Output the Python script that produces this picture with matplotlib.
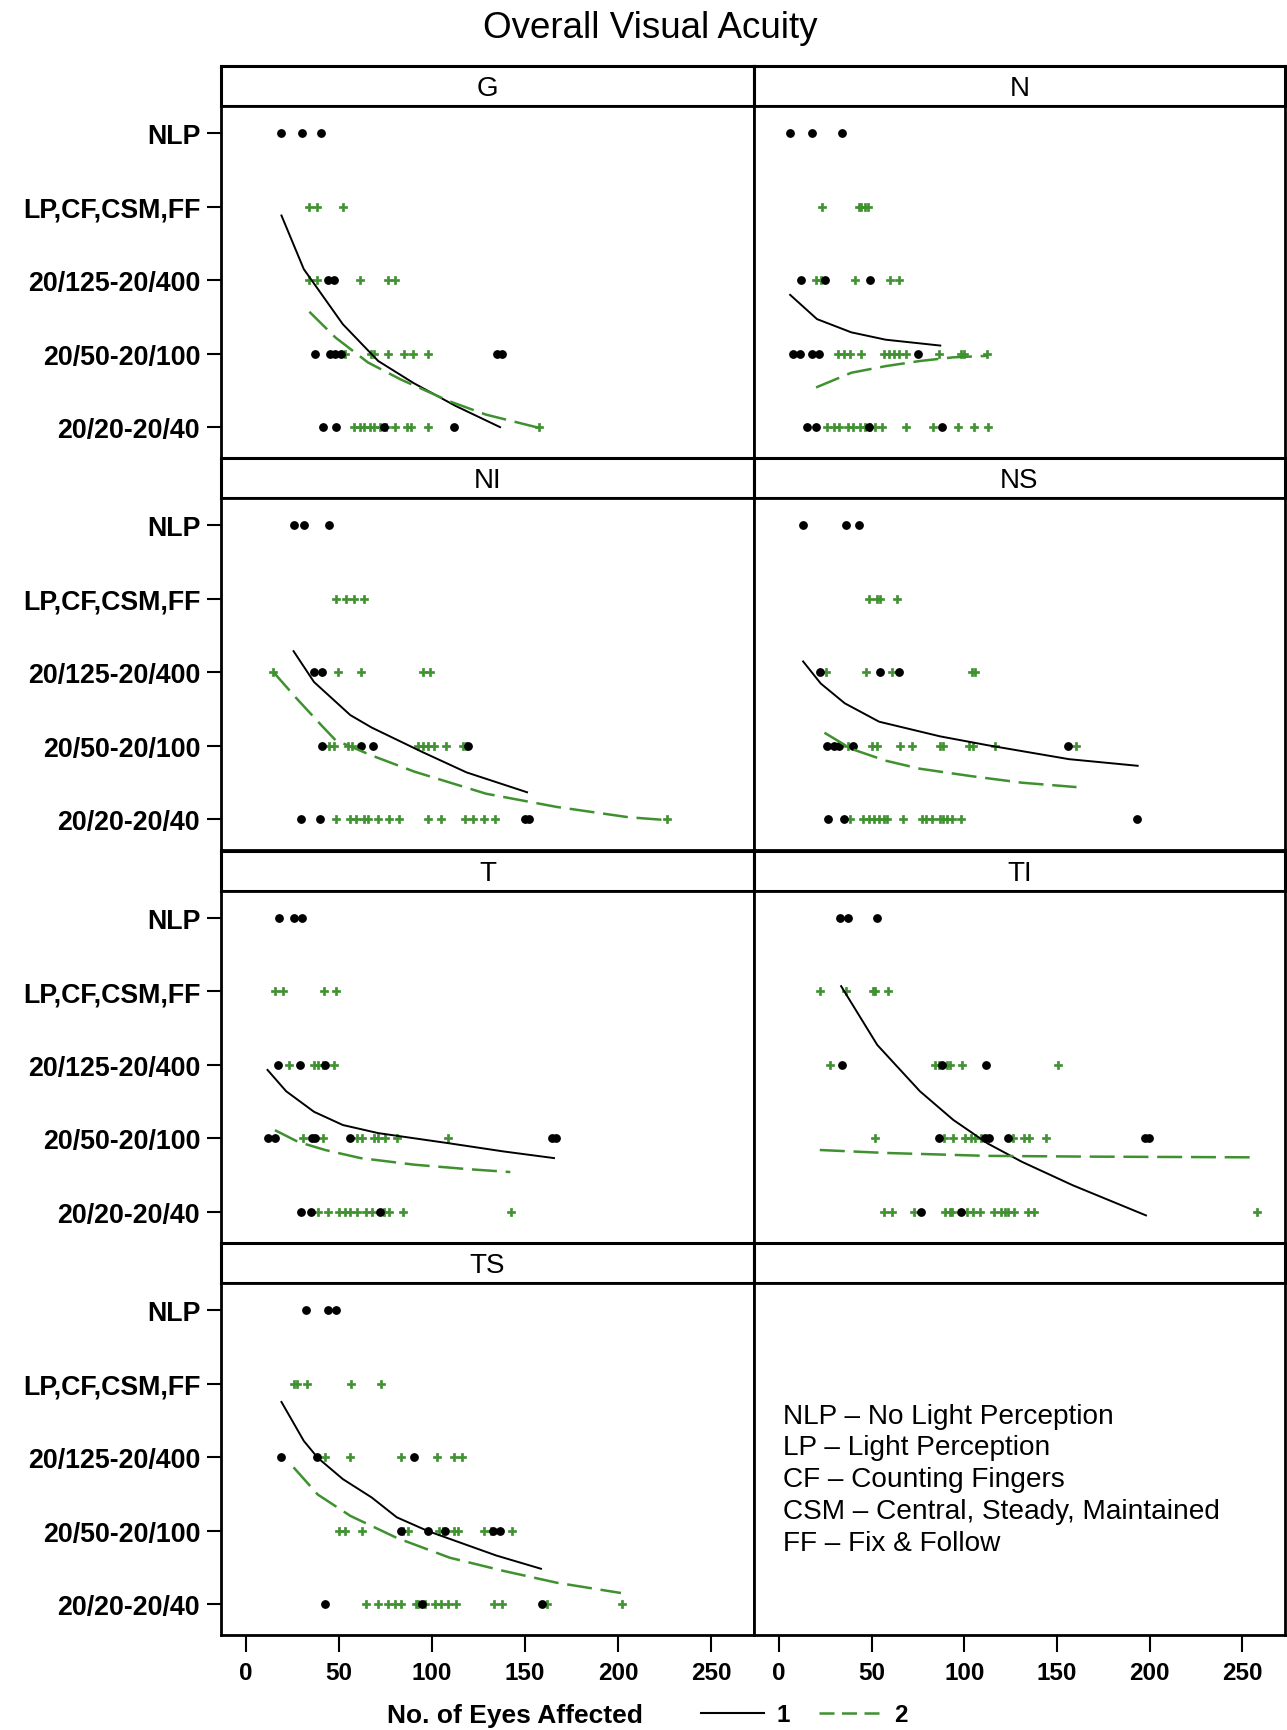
import matplotlib
matplotlib.use('Agg')
import matplotlib.pyplot as plt
from matplotlib.lines import Line2D

plt.rcParams['font.family'] = ['Liberation Sans', 'DejaVu Sans']

# categories, top to bottom
categories = ['NLP', 'LP,CF,CSM,FF', '20/125-20/400', '20/50-20/100', '20/20-20/40']
x_ticks = [0, 50, 100, 150, 200, 250]
panel_names = ['G', 'N', 'NI', 'NS', 'T', 'TI', 'TS']

# points per category (index = category), group 1 (black) and group 2 (green)
G_black = [[19, 30, 40], [], [44, 47], [37, 45, 48, 51, 135, 137.5], [41.5, 48.5, 74, 112]]
G_green = [[], [34, 38, 52], [34, 38, 61, 76, 80], [53, 67, 69, 76, 85, 89.5, 97.5],
           [58, 61, 63.5, 66.5, 69, 72, 75, 80, 86.5, 88.5, 97.5, 157.5]]
G_fit1_x = [19, 31, 52, 71, 90, 112.5, 136.5]
G_fit1_y = [1.12, 1.85, 2.60, 3.10, 3.40, 3.71, 4.0]
G_fit2_x = [34, 48, 65.5, 83, 109.5, 129, 157.5]
G_fit2_y = [2.43, 2.78, 3.12, 3.35, 3.65, 3.83, 4.01]

N_black = [[6, 18, 34], [], [12, 25, 49], [7.5, 11.5, 18, 21.5, 75], [15, 20, 48.5, 88]]
N_green = [[], [23, 43, 44.5, 46.5, 48], [20, 22.5, 41, 60, 65],
           [32, 35, 38.5, 44.5, 56.5, 59.5, 62, 65, 68.5, 86.5, 98, 100, 112],
           [26, 29.5, 32.5, 37, 40, 43.5, 46.5, 49, 52, 55.5, 68.5, 83, 96.5, 105, 112.5]]
N_fit1_x = [6, 20.5, 39, 57.5, 87]
N_fit1_y = [2.20, 2.53, 2.71, 2.81, 2.89]
N_fit2_x = [20, 39, 57.5, 76, 94, 112.5]
N_fit2_y = [3.46, 3.26, 3.17, 3.10, 3.05, 3.03]

NI_black = [[26, 31, 44.5], [], [36.5, 41], [41, 61.5, 68, 119.5], [29.5, 39.5, 150, 152]]
NI_green = [[], [48.5, 53.5, 58, 63.5], [14.5, 49.5, 61.5, 95, 99],
            [44.5, 47, 54.5, 57, 92.5, 95, 98, 101, 107.5, 116.5, 118],
            [48.5, 56, 59, 63.5, 65.5, 71, 77, 82, 98, 104.5, 117.5, 122, 128, 134, 226.5]]
NI_fit1_x = [25.5, 36.5, 56, 67.5, 94.5, 118.5, 151]
NI_fit1_y = [1.71, 2.13, 2.58, 2.75, 3.08, 3.36, 3.63]
NI_fit2_x = [14.5, 27, 40.5, 48, 67.5, 90.5, 129, 167, 205.5, 226.5]
NI_fit2_y = [1.99, 2.35, 2.72, 2.92, 3.13, 3.35, 3.65, 3.83, 3.97, 4.01]

NS_black = [[13, 36, 43], [], [22, 54.5, 65], [26, 29.5, 32.5, 40, 156], [26.5, 35, 193]]
NS_green = [[], [48.5, 53, 54.5, 63.5], [25.5, 47, 61, 104, 106],
            [37, 50, 53, 65.5, 71.5, 87, 88.5, 102.5, 104.5, 116.5, 160.5],
            [38.5, 45.5, 48.5, 51, 54, 56.5, 58.5, 67, 77, 79.5, 82.5, 87, 88.5, 90.5, 93.5, 98]]
NS_fit1_x = [13, 22.5, 35.5, 54, 87, 112.5, 156.5, 193.5]
NS_fit1_y = [1.85, 2.15, 2.42, 2.67, 2.87, 2.99, 3.18, 3.27]
NS_fit2_x = [24.5, 39, 57.5, 76, 103.5, 131, 160.5]
NS_fit2_y = [2.82, 3.04, 3.20, 3.31, 3.41, 3.50, 3.56]

T_black = [[17.5, 25.5, 30], [], [17, 29, 42.5], [11.5, 15.5, 35.5, 37, 56, 164.5, 166.5], [29.5, 35, 72]]
T_green = [[], [15.5, 20, 42, 48.5], [23, 36.5, 38.5, 41.5, 47],
           [30.5, 41.5, 59.5, 62.5, 68.5, 71, 74.5, 81, 108.5],
           [38.5, 44, 50, 53, 56, 59.5, 64.5, 67.5, 74, 77, 84.5, 142.5]]
T_fit1_x = [11.5, 21.5, 36.5, 52, 71, 109.5, 138.5, 165.5]
T_fit1_y = [2.07, 2.36, 2.64, 2.82, 2.93, 3.07, 3.18, 3.27]
T_fit2_x = [15.5, 28, 42.5, 61.5, 90.5, 119, 142]
T_fit2_y = [2.89, 3.05, 3.16, 3.27, 3.36, 3.42, 3.46]

TI_black = [[33, 37, 53], [], [34, 88, 111.5], [86.5, 111, 113.5, 123.5, 197.5, 199.5], [76.5, 98]]
TI_green = [[], [22, 36, 50.5, 52, 59], [27.5, 84, 86.5, 90.5, 92.5, 98.5, 150.5],
            [52, 89, 94, 100.5, 103.5, 106, 109, 126.5, 132, 135, 144],
            [56.5, 61, 73, 89.5, 92.5, 93.5, 101.5, 104.5, 108.5, 116, 120, 122, 123.5, 127,
             134.5, 137.5, 258]]
TI_fit1_x = [33.5, 53, 76, 94, 112.5, 131, 158.5, 198]
TI_fit1_y = [0.93, 1.73, 2.36, 2.75, 3.07, 3.32, 3.64, 4.05]
TI_fit2_x = [22, 57.5, 112.5, 168, 258]
TI_fit2_y = [3.16, 3.20, 3.24, 3.25, 3.26]

TS_black = [[32, 44, 48.5], [], [19, 38, 90.5], [83, 97.5, 107, 132.5, 136.5], [42.5, 94.5, 159]]
TS_green = [[], [25.5, 27.5, 32.5, 56.5, 72.5], [42.5, 56, 83.5, 102.5, 112, 116],
            [50, 53, 62.5, 84.5, 87, 103.5, 106, 111.5, 114, 128, 131.5, 143],
            [64.5, 71, 76.5, 80, 83, 91.5, 92.5, 96, 101.5, 105, 108.5, 113, 133.5, 137.5, 162, 202]]
TS_fit1_x = [19, 31, 38.5, 52, 67.5, 81, 98, 113.5, 134.5, 158.5]
TS_fit1_y = [1.25, 1.78, 2.01, 2.30, 2.55, 2.82, 3.01, 3.15, 3.34, 3.52]
TS_fit2_x = [25.5, 38.5, 56, 81, 109.5, 138.5, 167, 201.5]
TS_fit2_y = [2.14, 2.51, 2.80, 3.10, 3.37, 3.55, 3.71, 3.85]

abbrev_lines = ['NLP \u2013 No Light Perception',
                'LP \u2013 Light Perception',
                'CF \u2013 Counting Fingers',
                'CSM \u2013 Central, Steady, Maintained',
                'FF \u2013 Fix & Follow']

panels = [
    (G_black, G_green, G_fit1_x, G_fit1_y, G_fit2_x, G_fit2_y),
    (N_black, N_green, N_fit1_x, N_fit1_y, N_fit2_x, N_fit2_y),
    (NI_black, NI_green, NI_fit1_x, NI_fit1_y, NI_fit2_x, NI_fit2_y),
    (NS_black, NS_green, NS_fit1_x, NS_fit1_y, NS_fit2_x, NS_fit2_y),
    (T_black, T_green, T_fit1_x, T_fit1_y, T_fit2_x, T_fit2_y),
    (TI_black, TI_green, TI_fit1_x, TI_fit1_y, TI_fit2_x, TI_fit2_y),
    (TS_black, TS_green, TS_fit1_x, TS_fit1_y, TS_fit2_x, TS_fit2_y),
]

GREEN = '#3f9130'
W, H = 1287, 1731
fig = plt.figure(figsize=(W / 100, H / 100), dpi=100)

colEdges = [(221, 754), (754, 1285)]
rowTop0, rowStep, stripH, plotH = 67, 392.3, 40, 352

def rect(x0, x1, top, h):
    return [x0 / W, 1 - (top + h) / H, (x1 - x0) / W, h / H]

def styleSpines(ax, lw):
    for s in ax.spines.values():
        s.set_linewidth(lw)
        s.set_color('black')

for i in range(8):
    r, c = divmod(i, 2)
    x0, x1 = colEdges[c]
    top = rowTop0 + r * rowStep
    sax = fig.add_axes(rect(x0, x1, top, stripH))
    sax.set_xticks([])
    sax.set_yticks([])
    styleSpines(sax, 2.2)
    if i < len(panel_names):
        sax.text(0.5, 0.45, panel_names[i], transform=sax.transAxes,
                 ha='center', va='center', fontsize=20)

    ax = fig.add_axes(rect(x0, x1, top + stripH, plotH))
    styleSpines(ax, 2.0)
    ax.set_xlim(-13.5, 273)
    ax.set_ylim(4.42, -0.37)
    ax.set_yticks(range(len(categories)))
    if c == 0:
        ax.set_yticklabels(categories, fontsize=19.3, fontweight='bold')
        ax.tick_params(axis='y', length=10, width=1.5, pad=5)
    else:
        ax.tick_params(axis='y', left=False, labelleft=False)
    ax.set_xticks(x_ticks)
    if r == 3:
        ax.set_xticklabels([str(t) for t in x_ticks], fontsize=17.5, fontweight='bold')
        ax.tick_params(axis='x', length=12, width=1.5, pad=7)
    else:
        ax.tick_params(axis='x', bottom=False, labelbottom=False)

    if i < len(panels):
        black, green, f1x, f1y, f2x, f2y = panels[i]
        for k in range(len(categories)):
            if green[k]:
                ax.plot(green[k], [k] * len(green[k]), 'P', color=GREEN, markersize=6,
                        markeredgewidth=0.5, markeredgecolor=GREEN, linestyle='none', zorder=3)
            if black[k]:
                ax.plot(black[k], [k] * len(black[k]), 'o', color='black', markersize=5.3,
                        linestyle='none', zorder=4)
        ax.plot(f1x, f1y, color='black', lw=1.4, zorder=5)
        ax.plot(f2x, f2y, color=GREEN, lw=1.8, linestyle=(0, (10, 3.5)), zorder=5)
    else:
        ax.text(0.055, 0.66, '\n'.join(abbrev_lines), transform=ax.transAxes,
                ha='left', va='top', fontsize=20.2, linespacing=1.29)

fig.text(650 / W, 1 - 28 / H, 'Overall Visual Acuity', ha='center', va='center', fontsize=26.5)
fig.text(515 / W, 1 - 1716 / H, 'No. of Eyes Affected', ha='center', va='center',
         fontsize=19, fontweight='bold')

handles = [Line2D([], [], color='black', lw=1.5),
           Line2D([], [], color=GREEN, lw=1.8, linestyle=(0, (6, 3)))]
leg = fig.legend(handles, ['1', '2'], loc='center left', bbox_to_anchor=(689 / W, 1 - 1716 / H),
                 ncol=2, frameon=False, handlelength=2.6, columnspacing=1.2, handletextpad=0.5,
                 borderpad=0, prop={'size': 17.5, 'weight': 'bold'})

fig.savefig('out.png', dpi=100)
